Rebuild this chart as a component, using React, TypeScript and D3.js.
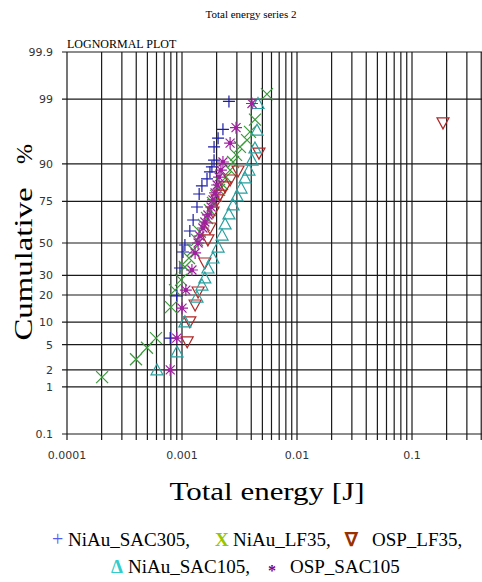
import React from 'react';
import * as d3 from 'd3';

// values: energy in J, cumulative in %
const sac305X = [0.00079, 0.0009, 0.00096, 0.00102, 0.00106, 0.00117, 0.00125, 0.00135, 0.00141, 0.00149, 0.00165, 0.00175, 0.00182, 0.0019, 0.0019, 0.00206, 0.00227, 0.00256];
const sac305Y = [6.2, 19.6, 34.3, 44.2, 48.7, 57.7, 64.5, 72.0, 78.6, 82.2, 85.0, 87.5, 89.1, 91.0, 94.0, 95.5, 96.7, 98.9];

const lf35X = [0.000202, 0.000398, 0.000496, 0.000594, 0.000802, 0.000869, 0.00098, 0.00106, 0.00115, 0.00125, 0.00135, 0.00143, 0.00155, 0.00165, 0.00175, 0.00186, 0.00198, 0.0021, 0.00223, 0.00241, 0.00262, 0.00278, 0.00295, 0.00319, 0.00368, 0.0039, 0.00431, 0.00548];
const lf35Y = [1.5, 3.0, 4.5, 6.2, 15.0, 22.3, 27.5, 34.9, 40.4, 45.5, 52.0, 57.1, 61.5, 65.7, 70.3, 74.1, 77.7, 80.5, 83.0, 85.7, 88.1, 90.5, 92.3, 94.0, 95.2, 96.4, 97.7, 99.2];

const ospLf35X = [0.00111, 0.00117, 0.0013, 0.00138, 0.00158, 0.00168, 0.00175, 0.00186, 0.00202, 0.00214, 0.00237, 0.00262, 0.00307, 0.00467, 0.186];
const ospLf35Y = [5.5, 10.1, 15.8, 21.4, 37.3, 52.0, 59.6, 69.2, 75.7, 78.1, 81.8, 84.6, 87.8, 92.7, 97.4];

const sac105X = [0.000606, 0.000905, 0.00106, 0.00135, 0.00149, 0.00158, 0.00168, 0.00186, 0.00206, 0.00223, 0.00237, 0.00256, 0.00278, 0.00301, 0.00326, 0.00353, 0.00382, 0.00406, 0.00431, 0.00449, 0.00458];
const sac105Y = [2.0, 3.9, 10.1, 19.1, 24.8, 28.6, 34.3, 40.4, 47.4, 55.1, 62.1, 68.1, 73.1, 77.7, 81.3, 85.4, 88.1, 91.0, 93.8, 96.6, 98.8];

const ospSac105X = [0.00079, 0.0009, 0.001, 0.00108, 0.00122, 0.0013, 0.00138, 0.00143, 0.00152, 0.00158, 0.00168, 0.00179, 0.00186, 0.00194, 0.00202, 0.0021, 0.00218, 0.00227, 0.00262, 0.00295, 0.00406];
const ospSac105Y = [2.0, 6.2, 14.6, 22.3, 33.1, 43.6, 50.0, 54.5, 59.6, 63.3, 67.5, 72.0, 75.7, 79.1, 82.6, 85.7, 88.1, 90.5, 94.7, 96.9, 98.8];

const yTicks = [0.1, 1, 2, 5, 10, 20, 30, 50, 75, 90, 99, 99.9];
const xTickLabels = ['0.0001', '0.001', '0.01', '0.1'];

// inverse normal cdf (Acklam) for the probability axis
const probit = (p: number) => {
  const a = [-39.69683028665376, 220.9460984245205, -275.9285104469687, 138.357751867269, -30.66479806614716, 2.506628277459239];
  const b = [-54.47609879822406, 161.5858368580409, -155.6989798598866, 66.80131188771972, -13.28068155288572];
  const c = [-0.007784894002430293, -0.3223964580411365, -2.400758277161838, -2.549732539343734, 4.374664141464968, 2.938163982698783];
  const d = [0.007784695709041462, 0.3224671290700398, 2.445134137142996, 3.754408661907416];
  const pl = 0.02425;
  if (p < pl) {
    const q = Math.sqrt(-2 * Math.log(p));
    return (((((c[0] * q + c[1]) * q + c[2]) * q + c[3]) * q + c[4]) * q + c[5]) / ((((d[0] * q + d[1]) * q + d[2]) * q + d[3]) * q + 1);
  }
  if (p > 1 - pl) {
    const q = Math.sqrt(-2 * Math.log(1 - p));
    return -(((((c[0] * q + c[1]) * q + c[2]) * q + c[3]) * q + c[4]) * q + c[5]) / ((((d[0] * q + d[1]) * q + d[2]) * q + d[3]) * q + 1);
  }
  const q = p - 0.5;
  const r = q * q;
  return (((((a[0] * r + a[1]) * r + a[2]) * r + a[3]) * r + a[4]) * r + a[5]) * q / (((((b[0] * r + b[1]) * r + b[2]) * r + b[3]) * r + b[4]) * r + 1);
};

const W = 482;
const H = 582;
const left = 67;
const top = 52;
const bottom = 434;

const x = d3.scaleLog().domain([0.0001, 1]).range([left, left + 460]);
const z = d3.scaleLinear().domain([probit(0.001), probit(0.999)]).range([bottom, top]);
const y = (pct: number) => z(probit(pct / 100));

const gridX: number[] = [];
for (let e = -4; e < 0; e++) {
  for (let k = 1; k <= 9; k++) gridX.push(k * Math.pow(10, e));
}

const shapes: Record<string, string> = {
  plus: 'M-6,0H6M0,-6V6',
  cross: 'M-6,-6L6,6M-6,6L6,-6',
  down: 'M-6,-5L6,-5L0,6Z',
  up: 'M0,-6L6,5L-6,5Z',
  star: 'M-6,0H6M0,-6V6M-4.5,-4.5L4.5,4.5M-4.5,4.5L4.5,-4.5',
};

const series = [
  { xs: sac305X, ys: sac305Y, shape: 'plus', color: '#1c1ca8' },
  { xs: lf35X, ys: lf35Y, shape: 'cross', color: '#3a9a3a' },
  { xs: ospLf35X, ys: ospLf35Y, shape: 'down', color: '#b02828' },
  { xs: sac105X, ys: sac105Y, shape: 'up', color: '#2aa0a0' },
  { xs: ospSac105X, ys: ospSac105Y, shape: 'star', color: '#a020a0' },
];

const serif = '"Liberation Serif", "Times New Roman", serif';
const sans = '"DejaVu Sans", Verdana, sans-serif';

export default function App() {
  return (
    <div style={{ position: 'absolute', left: 0, top: 0 }}>
      <svg width={W} height={H} style={{ display: 'block', background: '#fff' }}>
        <text x={251} y={18} textAnchor="middle" fontFamily={serif} fontSize={11}>Total energy series 2</text>
        <text x={left} y={48} fontFamily={serif} fontSize={12}>LOGNORMAL PLOT</text>

        <g stroke="#1a1a1a" strokeWidth={1.2}>
          {gridX.map((v, i) => (
            <line key={'v' + i} x1={x(v)} x2={x(v)} y1={top} y2={bottom + 6} />
          ))}
          {yTicks.map((t) => (
            <line key={'h' + t} x1={left - 5} x2={W} y1={y(t)} y2={y(t)} />
          ))}
        </g>

        {yTicks.map((t) => (
          <text key={'yl' + t} x={53} y={y(t)} dy="0.35em" textAnchor="end" fontFamily={sans} fontSize={11} fill="#333">{String(t)}</text>
        ))}
        {xTickLabels.map((t) => (
          <text key={'xl' + t} x={x(+t)} y={459} textAnchor="middle" fontFamily={sans} fontSize={11} fill="#333">{t}</text>
        ))}

        {series.map((s, si) => (
          <g key={si} stroke={s.color} strokeWidth={1.2} fill="none">
            {s.xs.map((v, i) => (
              <g key={i} transform={`translate(${x(v)},${y(s.ys[i])})`}>
                <path d={shapes[s.shape]} />
                {s.shape === 'star' && <circle r={2} fill={s.color} stroke="none" />}
              </g>
            ))}
          </g>
        ))}

        <text transform="translate(32,264) rotate(-90)" textAnchor="middle" fontFamily={serif} fontSize={26} textLength={153} lengthAdjust="spacingAndGlyphs">Cumulative</text>
        <text transform="translate(32,154) rotate(-90)" textAnchor="middle" fontFamily={serif} fontSize={24}>%</text>
        <text x={267} y={500} textAnchor="middle" fontFamily={serif} fontSize={25} textLength={195} lengthAdjust="spacingAndGlyphs">Total energy [J]</text>

        <g fontFamily={serif} fontSize={19}>
          <text x={52} y={546} fill="#5a5af0" fontSize={20}>+</text>
          <text x={68} y={546}>NiAu_SAC305,</text>
          <text x={215} y={546} fill="#99c400" fontWeight="bold">X</text>
          <text x={233} y={546}>NiAu_LF35,</text>
          <text x={345} y={546} fill="#9a3000" fontWeight="bold">∇</text>
          <text x={372} y={546}>OSP_LF35,</text>
          <text x={111} y={573} fill="#33cccc" fontWeight="bold">Δ</text>
          <text x={128} y={573}>NiAu_SAC105,</text>
          <text x={268} y={576} fill="#800080" fontWeight="bold" fontSize={16}>*</text>
          <text x={290} y={573}>OSP_SAC105</text>
        </g>
      </svg>
    </div>
  );
}
